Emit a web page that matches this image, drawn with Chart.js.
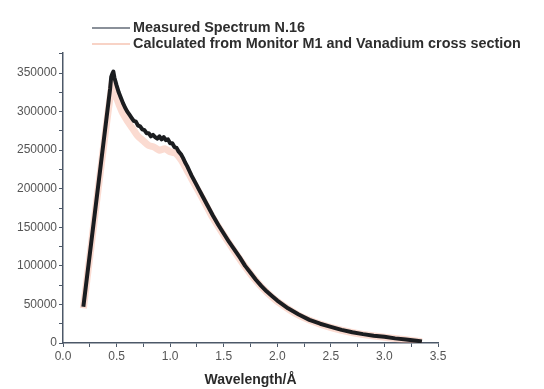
<!DOCTYPE html>
<html>
<head>
<meta charset="utf-8">
<script src="https://cdn.jsdelivr.net/npm/chart.js@4"></script>
<style>
  html, body { margin: 0; padding: 0; background: #ffffff; }
  #wrap { position: relative; width: 544px; height: 389px; }
  canvas { position: absolute; left: 0; top: 0; }
  .leg { position: absolute; font-family: "Liberation Sans", Arial, sans-serif; font-weight: bold; font-size: 14.4px; color: #2e2e2e; white-space: nowrap; line-height: 16px; }
  .sw { position: absolute; height: 0; }
</style>
</head>
<body>
<div id="wrap">
  <canvas id="c" width="544" height="389"></canvas>
  <div class="sw" style="left:92px; top:27px; width:38px; border-top:2px solid #8a9099;"></div>
  <div class="leg" style="left:133px; top:19px;">Measured Spectrum N.16</div>
  <div class="sw" style="left:92px; top:43px; width:38px; border-top:2px solid #f8d3c6;"></div>
  <div class="leg" style="left:133px; top:35px;">Calculated from Monitor M1 and Vanadium cross section</div>
</div>
<script>
const seriesNames = ["Measured Spectrum N.16", "Calculated from Monitor M1 and Vanadium cross section"];

const xMeasured = [0.19, 0.44, 0.45, 0.46, 0.47, 0.48, 0.50, 0.52, 0.54, 0.56, 0.58, 0.60, 0.62, 0.64, 0.66, 0.68, 0.70, 0.72, 0.74, 0.76, 0.78, 0.80, 0.82, 0.84, 0.86, 0.88, 0.90, 0.92, 0.94, 0.96, 0.98, 1.00, 1.02, 1.04, 1.06, 1.08, 1.10, 1.12, 1.14, 1.16, 1.18, 1.20, 1.25, 1.30, 1.35, 1.40, 1.45, 1.50, 1.55, 1.60, 1.65, 1.70, 1.75, 1.80, 1.85, 1.90, 1.95, 2.00, 2.10, 2.20, 2.30, 2.40, 2.50, 2.60, 2.70, 2.80, 2.90, 3.00, 3.10, 3.20, 3.30, 3.35];
const yMeasured = [47000, 330000, 345000, 349000, 352000, 344000, 334000, 325000, 318000, 311000, 305000, 300000, 296000, 292000, 288000, 287000, 282000, 281000, 277000, 276000, 272000, 272000, 268000, 270000, 267000, 265000, 268000, 264000, 267000, 263000, 264000, 259000, 259000, 254000, 253000, 248000, 245000, 240000, 234000, 229000, 223000, 217000, 204000, 191000, 178000, 165000, 153000, 142000, 131000, 121000, 111000, 100000, 91000, 82000, 74000, 67000, 61000, 55000, 45000, 37000, 30000, 25000, 21000, 17000, 14000, 11500, 9500, 8000, 6000, 4500, 3000, 2000];

const xCalc = [0.19, 0.46, 0.50, 0.55, 0.60, 0.65, 0.70, 0.75, 0.80, 0.85, 0.90, 0.95, 1.00, 1.05, 1.10, 1.15, 1.20, 1.30, 1.40, 1.50, 1.60, 1.70, 1.80, 1.90, 2.00, 2.20, 2.40, 2.60, 2.80, 3.00, 3.20, 3.35];
const yCalc = [45000, 338000, 318000, 300000, 288000, 278000, 268000, 262000, 256000, 254000, 250000, 252000, 248000, 246000, 238000, 226000, 213000, 188000, 162000, 140000, 119000, 99000, 81000, 66000, 54000, 36000, 24500, 16500, 11000, 7500, 4200, 1800];

const yTickStep = 50000;
const xTickStep = 0.5;
const axisTitle = "Wavelength/\u00C5";

const measuredPts = xMeasured.map((x, i) => ({ x: x, y: yMeasured[i] }));
const calcPts = xCalc.map((x, i) => ({ x: x, y: yCalc[i] }));

const axisColor = '#4c5868';
const tickFont = { family: '"Liberation Sans", Arial, sans-serif', size: 12 };

new Chart(document.getElementById('c'), {
  type: 'line',
  data: {
    datasets: [
      { label: seriesNames[0], data: measuredPts, borderColor: '#1b1d20', borderWidth: 4, pointRadius: 0, tension: 0, borderJoinStyle: 'round', order: 0 },
      { label: seriesNames[1], data: calcPts, borderColor: 'rgba(244,165,140,0.4)', borderWidth: 7, pointRadius: 0, tension: 0.2, order: 1 }
    ]
  },
  options: {
    responsive: false,
    animation: false,
    layout: { padding: { left: 0, right: 106, top: 53, bottom: 0 } },
    plugins: { legend: { display: false }, tooltip: { enabled: false } },
    scales: {
      x: {
        type: 'linear', min: 0, max: 3.5,
        afterBuildTicks: (s) => { const t = []; for (let v = 0; v <= 3.5001; v += 0.25) t.push({ value: Math.round(v * 100) / 100 }); s.ticks = t; },
        afterFit: (s) => { s.height = 46; },
        grid: { display: true, drawOnChartArea: false, drawTicks: true, tickLength: 4, color: axisColor, lineWidth: 1 },
        border: { display: true, color: axisColor, width: 1.5 },
        ticks: {
          autoSkip: false, maxRotation: 0, padding: 2, color: '#555', font: tickFont,
          callback: (v) => (Math.abs(v / xTickStep - Math.round(v / xTickStep)) < 1e-6) ? Number(v).toFixed(1) : ''
        },
        title: { display: true, text: axisTitle, color: '#2a2a2a', font: { family: '"Liberation Sans", Arial, sans-serif', size: 14, weight: 'bold' }, padding: { top: 6, bottom: 0 } }
      },
      y: {
        type: 'linear', min: 0, max: 376000,
        afterBuildTicks: (s) => { const t = []; for (let v = 0; v <= 375000; v += 25000) t.push({ value: v }); s.ticks = t; },
        afterFit: (s) => { s.width = 63; },
        grid: { display: true, drawOnChartArea: false, drawTicks: true, tickLength: 4, color: axisColor, lineWidth: 1 },
        border: { display: true, color: axisColor, width: 1.5 },
        ticks: {
          autoSkip: false, padding: 2, color: '#555', font: tickFont,
          callback: (v) => (v % yTickStep === 0) ? String(v) : ''
        }
      }
    }
  }
});
</script>
</body>
</html>
